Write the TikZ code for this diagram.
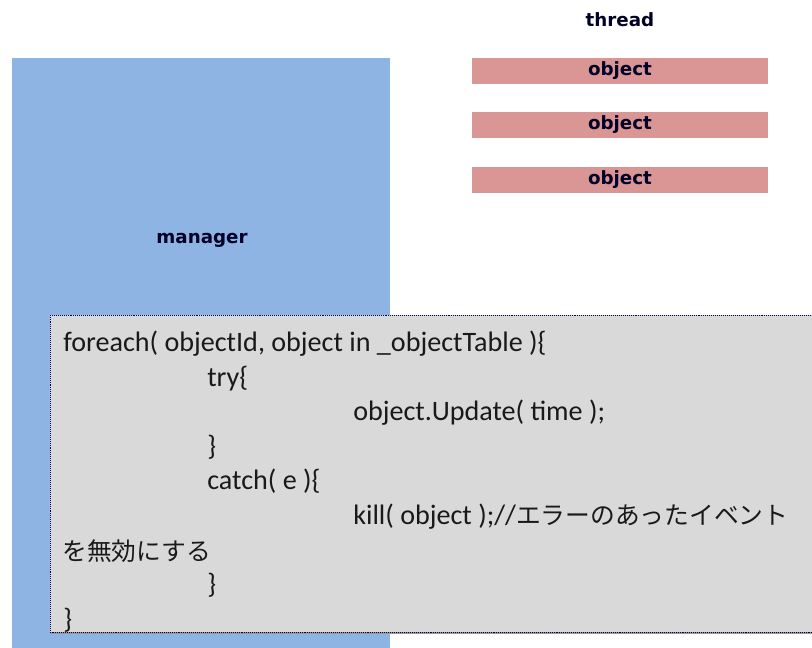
\documentclass[tikz,border=0pt]{standalone}
\usepackage{fontspec}
\setmainfont{Carlito}
\newfontfamily\labelfont{DejaVu Sans}
\newfontfamily\jpfont{Noto Sans CJK JP}
\usetikzlibrary{positioning}

\definecolor{managerblue}{HTML}{8DB4E2}
\definecolor{objectpink}{HTML}{D99694}
\definecolor{codegray}{HTML}{D9D9D9}

\newcommand{\jptext}[1]{{\jpfont\fontsize{17.6}{20}\selectfont #1}}

\tikzset{
  boxlabel/.style={font=\labelfont\bfseries\fontsize{13}{15}\selectfont, text=black!85!blue, inner sep=0pt},
  objbar/.style={boxlabel, fill=objectpink, minimum width=7.4cm, minimum height=0.64cm},
  codeline/.style={anchor=base west, inner sep=0pt, font=\fontsize{20}{24}\selectfont, text=black!90}
}

\begin{document}
\begin{tikzpicture}[x=0.025cm, y=-0.025cm]
  \useasboundingbox (0,0) rectangle (812,648);
  % manager block
  \fill[managerblue] (12,58) rectangle (390,648);
  \node[boxlabel] (manager) at (202,240) {manager};
  % thread with its objects
  \node[boxlabel] (thread) at (620,20) {thread};
  \foreach \n/\y in {1/71, 2/125, 3/180}
    \node[objbar] (object\n) at (620,\y) {object};
  % code box
  \fill[codegray] (50,315) rectangle (812,632);
  \draw[black!40, line width=1pt] (50,633) -- (812,633);
  \draw[black!70!blue, densely dotted] (812,632) -- (50,632) |- (812,315);
  \node[codeline] (line1) at (63,352) {foreach( objectId, object in \_objectTable )\{};
  \node[codeline] (line2) at (207,387) {try\{};
  \node[codeline] (line3) at (353,421) {object.Update( time );};
  \node[codeline] (line4) at (207,456) {\}};
  \node[codeline] (line5) at (207,490) {catch( e )\{};
  \node[codeline] (line6) at (353,525) {kill( object );//\jptext{エラーのあったイベント}};
  \node[codeline] (line7) at (62,561) {\jptext{を無効にする}};
  \node[codeline] (line8) at (207,594) {\}};
  \node[codeline] (line9) at (63,629) {\}};
\end{tikzpicture}
\end{document}
